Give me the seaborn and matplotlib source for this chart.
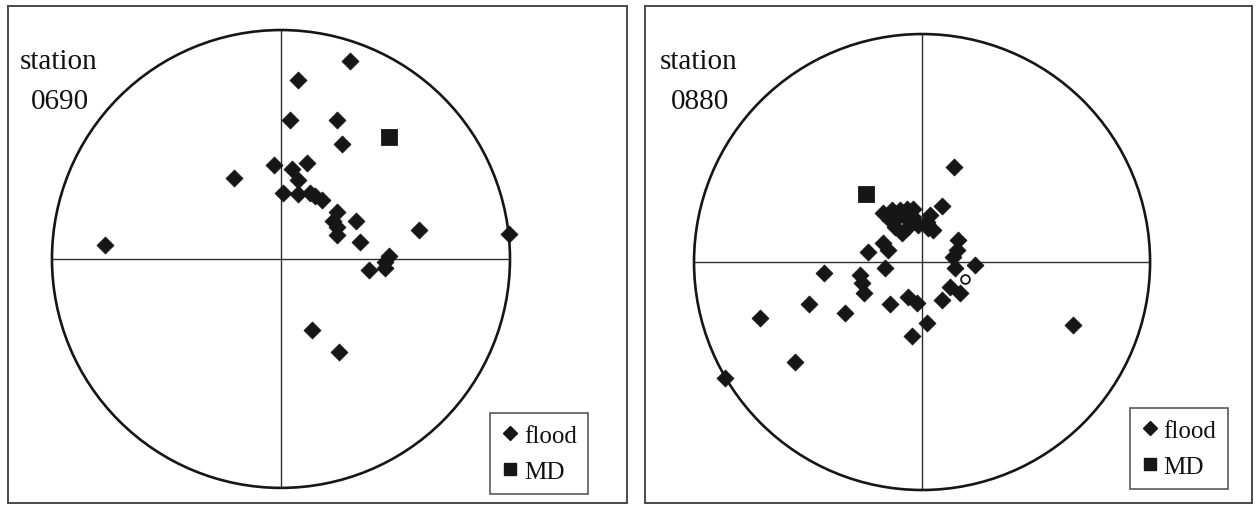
import matplotlib.pyplot as plt
import numpy as np
import pandas as pd
import seaborn as sns
from matplotlib.lines import Line2D
from matplotlib.patches import Circle


# pole positions on the unit stereonet (x = east, y = north)
STATION_0690_FLOOD_X = [
    -0.769, -0.205, 0.076, 0.301, 0.039, 0.243, 0.265, -0.029, 0.112, 0.047,
    0.076, 0.007, 0.076, 0.127, 0.148, 0.178, 0.243, 0.226, 0.243, 0.243,
    0.328, 0.345, 0.604, 0.996, 0.473, 0.454, 0.454, 0.384, 0.134, 0.255,
]
STATION_0690_FLOOD_Y = [
    0.061, 0.352, 0.782, 0.866, 0.607, 0.607, 0.501, 0.410, 0.419, 0.393,
    0.346, 0.288, 0.284, 0.288, 0.274, 0.259, 0.207, 0.167, 0.138, 0.105,
    0.167, 0.073, 0.128, 0.109, 0.012, -0.012, -0.038, -0.047, -0.309, -0.407,
]
STATION_0690_MD_X = [0.470]
STATION_0690_MD_Y = [0.531]

STATION_0880_FLOOD_X = [
    0.140, 0.086, -0.170, -0.133, -0.096, -0.067, -0.038, -0.140, -0.111, -0.075,
    -0.038, 0.035, 0.021, -0.118, -0.089, -0.060, -0.016, 0.028, 0.050, 0.159,
    -0.170, -0.148, -0.236, 0.152, 0.137, 0.145, 0.232, -0.162, 0.123, 0.167,
    0.086, -0.060, -0.023, -0.140, -0.430, -0.272, -0.264, -0.254, -0.494, -0.338,
    0.021, -0.045, 0.661, -0.557, -0.711, -0.864,
]
STATION_0880_FLOOD_Y = [
    0.418, 0.246, 0.214, 0.228, 0.228, 0.231, 0.231, 0.184, 0.192, 0.199,
    0.199, 0.206, 0.177, 0.155, 0.126, 0.155, 0.162, 0.148, 0.140, 0.096,
    0.082, 0.053, 0.045, 0.053, 0.023, -0.028, -0.013, -0.028, -0.108, -0.137,
    -0.167, -0.152, -0.181, -0.186, -0.047, -0.057, -0.093, -0.135, -0.186, -0.225,
    -0.269, -0.325, -0.276, -0.437, -0.246, -0.510,
]
STATION_0880_MD_X = [-0.246]
STATION_0880_MD_Y = [0.297]
STATION_0880_OPEN_X = [0.189]
STATION_0880_OPEN_Y = [-0.076]

INK = "#161616"
FRAME = "#4a4a4a"
W, H = 1257, 506


def configure_style() -> None:
    sns.set_theme(style="white")
    plt.rcParams["font.family"] = ["Liberation Serif", "DejaVu Serif"]
    plt.rcParams["axes.edgecolor"] = FRAME
    plt.rcParams["axes.linewidth"] = 1.4


def make_frame(df_flood, df_md):
    flood = pd.DataFrame({"x": df_flood[0], "y": df_flood[1], "kind": "flood"})
    md = pd.DataFrame({"x": df_md[0], "y": df_md[1], "kind": "MD"})
    return flood, md


def draw_net(ax, flood, md, name, xlim, ylim, legend_anchor, text_x):
    ax.set_facecolor("white")
    ax.add_patch(Circle((0, 0), 1.0, fill=False, edgecolor=INK, linewidth=1.9, zorder=2))
    ax.hlines(0, -1, 1, color="#2e2e2e", linewidth=1.0, zorder=1)
    ax.vlines(0, -1, 1, color="#2e2e2e", linewidth=1.0, zorder=1)

    sns.scatterplot(data=flood, x="x", y="y", marker="D", s=74, color=INK,
                    edgecolor=INK, linewidth=0.6, legend=False, ax=ax, zorder=3)
    sns.scatterplot(data=md, x="x", y="y", marker="s", s=120, color=INK,
                    edgecolor=INK, linewidth=0.6, legend=False, ax=ax, zorder=3)

    ax.set_xlim(*xlim)
    ax.set_ylim(*ylim)
    ax.set_xticks([])
    ax.set_yticks([])
    ax.set_xlabel("")
    ax.set_ylabel("")

    ax.text(text_x, 0.875, "station", transform=ax.transAxes, fontsize=21,
            ha="left", va="baseline", color="#111111")
    ax.text(text_x + 0.018, 0.795, name, transform=ax.transAxes, fontsize=21,
            ha="left", va="baseline", color="#111111")

    handles = [
        Line2D([], [], marker="D", linestyle="none", markersize=7,
               color=INK, label="flood"),
        Line2D([], [], marker="s", linestyle="none", markersize=9,
               color=INK, label="MD"),
    ]
    leg = ax.legend(handles=handles, loc="lower right", bbox_to_anchor=legend_anchor,
                    borderaxespad=0, fontsize=18, frameon=True, fancybox=False,
                    handlelength=0.7, handletextpad=0.2, labelspacing=0.55,
                    borderpad=0.45)
    leg.get_frame().set_edgecolor("#2e2e2e")
    leg.get_frame().set_linewidth(1.2)
    for t in leg.get_texts():
        t.set_color("#111111")


def main() -> None:
    configure_style()
    fig = plt.figure(figsize=(W / 100, H / 100), dpi=100)
    fig.patch.set_facecolor("white")

    ax1 = fig.add_axes([8 / W, 2 / H, 619 / W, 497 / H])
    ax2 = fig.add_axes([645 / W, 2 / H, 607 / W, 497 / H])

    flood1, md1 = make_frame((STATION_0690_FLOOD_X, STATION_0690_FLOOD_Y),
                             (STATION_0690_MD_X, STATION_0690_MD_Y))
    flood2, md2 = make_frame((STATION_0880_FLOOD_X, STATION_0880_FLOOD_Y),
                             (STATION_0880_MD_X, STATION_0880_MD_Y))

    draw_net(ax1, flood1, md1, "0690", (-1.192, 1.511), (-1.066, 1.105),
             (0.937, 0.018), 0.019)
    draw_net(ax2, flood2, md2, "0880", (-1.215, 1.447), (-1.057, 1.123),
             (0.960, 0.028), 0.025)

    ax2.scatter(STATION_0880_OPEN_X, STATION_0880_OPEN_Y, marker="o", s=40,
                facecolor="white", edgecolor=INK, linewidth=1.3, zorder=2.5)

    fig.savefig("out.png", dpi=100, facecolor="white")
    plt.close(fig)


if __name__ == "__main__":
    main()
